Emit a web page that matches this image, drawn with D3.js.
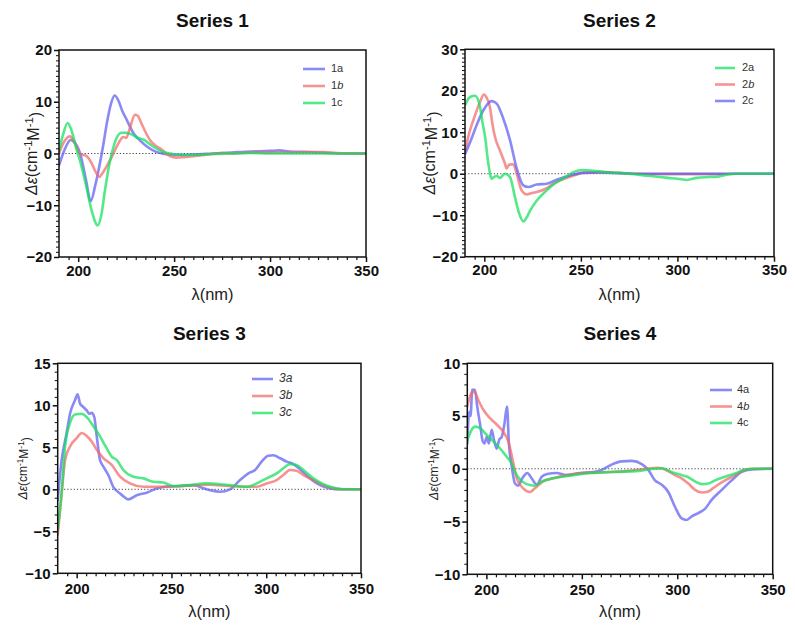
<!DOCTYPE html>
<html><head><meta charset="utf-8">
<script src="https://cdn.jsdelivr.net/npm/d3@7"></script>
<style>
html,body{margin:0;padding:0;background:#fff;}
svg{display:block;font-family:"Liberation Sans",Arial,Helvetica,sans-serif;}
</style></head>
<body>
<svg id="chart" width="795" height="627"></svg>
<script>
// ---------- DATA (wavelength nm, Δε) ----------
const s1a = [[190,-2.3],[193,0.8],[196,2.6],[198,2.2],[201,0],[204,-5],[206.5,-9.2],[209,-6],[211,-2.5],[213,1.5],[215,6],[217,9.5],[219,11.2],[221,10.2],[223,8.2],[225.3,6.5],[229,3.8],[232.3,2.5],[236,1.3],[240,0.4],[245,-0.1],[250,-0.3],[260,-0.2],[270,0],[280,0.2],[290,0.4],[300,0.5],[305,0.6],[310,0.4],[320,0.3],[330,0.1],[340,0],[350,0]];
const s1b = [[190,0],[192,1.8],[195.7,3.3],[198,2.2],[201,-0.1],[204.4,-0.5],[207,-1.9],[209,-3.5],[211,-4.5],[213,-3.6],[216.6,-1.3],[219,0.5],[221,2.0],[223.5,3.2],[225,3.0],[227,5.0],[229.6,7.5],[231,7.3],[233,5.8],[235,4.2],[237.4,2.6],[240,1.6],[242.6,1.0],[245,0.3],[247.8,-0.5],[251.3,-0.8],[255,-0.7],[260,-0.5],[270,-0.1],[275,0.1],[280,0],[290,0.2],[300,0.2],[310,0.2],[320,0.3],[328,0.3],[335,0.1],[350,0]];
const s1c = [[190,0.5],[192,3.5],[194.5,5.9],[196.5,4.5],[199,1],[201,-1.5],[204,-6],[207,-11],[210.2,-13.9],[212,-12],[214,-7],[216,-2.5],[217.5,0],[220,3.0],[222.7,4.0],[225,4.0],[228.8,3.5],[231,3.0],[234,2.7],[237,1.9],[239.2,1.3],[242,0.7],[244.4,0.3],[248,0],[252,-0.2],[260,-0.3],[270,-0.1],[280,0],[290,0.1],[300,0],[320,0],[350,0]];

const s2a = [[190,16.5],[192.6,18.5],[195.2,18.8],[197.8,16.1],[199,12.5],[200.4,8.9],[202.1,2.4],[203.8,-1.2],[205,-0.8],[206.4,-0.5],[208,-1.0],[210.7,0],[213.3,-0.8],[215.9,-5.7],[218,-9.5],[220.2,-11.5],[222,-10.5],[223.7,-8.9],[227.1,-6.5],[232.3,-4.0],[236,-2.5],[239.2,-1.6],[243,-0.5],[246.1,0.4],[251.3,0.9],[255,0.8],[260,0.5],[270,0.2],[275,0],[285,-0.5],[295,-1.0],[300,-1.2],[305,-1.5],[310,-1.0],[316,-0.8],[321,-0.7],[326,-0.2],[330,0],[350,0]];
const s2b = [[190,5.2],[192,9.5],[194.3,12.9],[197.8,17.3],[199.8,19.1],[201,18.5],[202.9,16.1],[204.2,12],[205.5,8.9],[208.1,5.6],[210.7,2.4],[211.5,1.3],[213,2.2],[215,2.3],[216.8,0],[219.3,-4.0],[222,-5.0],[225,-4.6],[227.1,-4.4],[232.3,-3.5],[236,-2.3],[239.2,-1.6],[244,-0.8],[247.9,-0.2],[251.3,0.3],[260,0.4],[270,0.2],[280,0],[290,-0.1],[300,-0.1],[320,-0.1],[330,0],[350,0]];
const s2c = [[190,4.7],[193,8],[196,11.7],[199.5,15.3],[203.8,17.5],[206.4,16.9],[209.8,13.3],[213.3,8.1],[216.6,1.6],[220.2,-2.8],[222.8,-3.2],[227.1,-2.6],[232.3,-2.4],[237.4,-1.45],[244.4,-0.4],[251.3,0.2],[260,0.3],[270,0.1],[280,0],[300,0],[350,0]];

const s3a = [[190,-1.3],[192.1,3.5],[194.7,6.7],[196.5,9.0],[199.1,10.6],[200.5,11.3],[201.8,10.2],[203.5,9.8],[205.3,9.4],[206.7,9.0],[207.9,9.1],[209.3,8.6],[210.6,6.3],[212.3,3.5],[214.1,2.7],[216.7,1.7],[219.3,0.3],[222.9,-0.5],[225,-0.9],[227.2,-1.2],[231.7,-0.7],[237,-0.4],[242.2,0.1],[246.6,0.3],[255,0.4],[262,0.5],[266,0.2],[270.4,-0.1],[275.6,-0.3],[280.9,0],[286.2,1.1],[290.6,1.9],[294.1,2.3],[297.6,3.3],[301.1,4.0],[303.8,4.05],[307.3,3.7],[310.8,3.3],[314.3,3.0],[317.8,2.4],[323.1,1.3],[328.4,0.5],[333.6,0.1],[339,0],[350,0]];
const s3b = [[190,-5.4],[192.1,-0.5],[193.9,3.5],[196.5,5.1],[200,6.1],[202.7,6.7],[205.3,6.35],[207.9,5.7],[210.6,4.7],[214.1,3.7],[218.5,2.9],[222.9,1.5],[228.1,0.7],[235.2,0.3],[245,0.3],[255,0.4],[265,0.5],[270,0.55],[280,0.4],[290,0.3],[295,0.3],[300.2,0.7],[305.5,1.1],[309,1.7],[312.5,2.3],[316,2.2],[319.6,1.7],[324.9,1.1],[330.1,0.5],[335.4,0.1],[340,0],[350,0]];
const s3c = [[190,-4.8],[192.1,-0.3],[193.9,5.1],[196.5,7.9],[199.1,8.9],[202.7,9.0],[205.3,8.6],[208.8,7.5],[212.3,6.3],[215.8,4.9],[218.5,3.9],[221.1,3.5],[224.6,2.3],[229.9,1.5],[235.2,1.3],[240.4,0.9],[245.7,0.8],[251,0.4],[260,0.5],[268,0.7],[280,0.5],[290,0.3],[295,0.7],[300.2,1.3],[305.5,1.9],[309,2.5],[312.5,3.0],[316,2.9],[319.6,2.3],[324.9,1.3],[330.1,0.6],[335.4,0.2],[340.7,0],[350,0]];

const s4a = [[190,2.4],[191,5.4],[191.7,5.0],[192.6,7.5],[194,7.5],[195.2,5.9],[196.7,4.2],[198.1,2.6],[199,2.4],[200.2,3.0],[201.3,2.4],[202.8,3.7],[203.9,2.8],[205.4,1.9],[206.8,2.8],[208,3.0],[209.4,4.2],[210.8,5.9],[211.8,2.4],[213.3,0.2],[215,-1.4],[216.7,-1.6],[218.5,-1.0],[220,-0.6],[221.4,-0.4],[223.7,-0.9],[226.4,-1.5],[229,-0.75],[231.8,-0.5],[236.8,-0.4],[242,-0.6],[249,-0.4],[256,-0.3],[260.4,-0.1],[265.6,0.4],[270.9,0.7],[276.1,0.75],[281.4,0.45],[284.8,-0.1],[288.3,-1.1],[291.8,-1.5],[295.3,-2.2],[298.8,-3.6],[302.3,-4.7],[304.9,-4.85],[307.6,-4.5],[311,-4.2],[314.5,-3.8],[318,-2.95],[323.3,-2.0],[328.5,-1.1],[333.8,-0.3],[339,-0.06],[350,0]];
const s4b = [[190,5.9],[192.3,7.2],[193.7,7.3],[195.8,6.5],[198.4,5.6],[201.9,4.8],[205.4,4.2],[208.9,3.5],[211.5,2.6],[213.8,0.8],[215.9,-0.9],[219.3,-1.85],[222.8,-2.2],[225.4,-1.85],[229.8,-1.2],[235,-0.9],[242,-0.6],[250.7,-0.4],[265.6,-0.3],[274.4,-0.2],[283.1,0],[290.1,0.1],[293.6,-0.06],[298.8,-0.6],[302.3,-0.9],[305.8,-1.4],[309.3,-2.0],[312.8,-2.25],[316.3,-2.15],[319.8,-1.7],[325,-1.1],[330.3,-0.6],[335.5,-0.1],[340,0],[350,0]];
const s4c = [[190,2.7],[192.3,3.7],[194,4.0],[196.7,3.85],[200.2,3.2],[203.7,2.6],[207.1,1.95],[210.6,1.15],[213.3,0.5],[215,-0.3],[217.6,-1.0],[221.1,-1.45],[225.4,-1.6],[229,-1.2],[235,-0.9],[245.6,-0.6],[255,-0.4],[265,-0.3],[280,-0.2],[288,0],[292,0.05],[297,-0.3],[302.3,-0.6],[305.8,-0.8],[309.3,-1.2],[312.8,-1.45],[316.3,-1.4],[319.8,-1.1],[325,-0.75],[330.3,-0.45],[335.5,-0.06],[340,0],[350,0]];

const titles = ["Series 1","Series 2","Series 3","Series 4"];
const xTicks = [200,250,300,350];
const yTicks1 = [-20,-10,0,10,20];
const yTicks2 = [-20,-10,0,10,20,30];
const yTicks3 = [-10,-5,0,5,10,15];
const yTicks4 = [-10,-5,0,5,10];
const legend1 = [["1a",""],["1","b"],["1c",""]];
const legend2 = [["2a",""],["2","b"],["2c",""]];
const legend3 = [["3a",""],["3b",""],["3c",""]];
const legend4 = [["4a",""],["4","b"],["4c",""]];

// ---------- STYLE ----------
const BLUE="#5d5df2", RED="#f46868", GREEN="#12e05a";

const panels = [
  {title:titles[0], box:[59,50,366,257], ydom:[-20,20], yt:yTicks1, series:[[s1a,BLUE],[s1b,RED],[s1c,GREEN]], legend:legend1, legItalicAll:false, leg:[303,325,331,69,17], ylab:33, ylabSize:16, titleY:27, xLabY:300},
  {title:titles[1], box:[465,49.3,774,256.7], ydom:[-20,30], yt:yTicks2, series:[[s2b,RED],[s2c,BLUE],[s2a,GREEN]], legend:legend2, legColors:[GREEN,RED,BLUE], legItalicAll:false, leg:[715,735,742,68,16.5], ylab:431, ylabSize:16, titleY:27, xLabY:300},
  {title:titles[2], box:[57.7,363.3,361,573.3], ydom:[-10,15], yt:yTicks3, series:[[s3a,BLUE],[s3b,RED],[s3c,GREEN]], legend:legend3, legItalicAll:true, leg:[252,273,279,379,17], ylab:24, ylabSize:12, titleY:340, xLabY:617},
  {title:titles[3], box:[467.3,363.3,772.7,574.3], ydom:[-10,10], yt:yTicks4, series:[[s4a,BLUE],[s4b,RED],[s4c,GREEN]], legend:legend4, legItalicAll:false, leg:[710,732,737,390,16.5], ylab:435, ylabSize:12, titleY:340, xLabY:617}
];

const svg = d3.select("#chart");

panels.forEach((p,pi)=>{
  const [L,T,R,B] = p.box;
  const x = d3.scaleLinear().domain([190,350]).range([L,R]);
  const y = d3.scaleLinear().domain(p.ydom).range([B,T]);
  const g = svg.append("g");

  const cid = "clip"+pi;
  svg.append("clipPath").attr("id",cid).append("rect").attr("x",L).attr("y",T).attr("width",R-L).attr("height",B-T);

  g.append("line").attr("x1",L).attr("x2",R).attr("y1",y(0)).attr("y2",y(0))
    .attr("stroke","#444").attr("stroke-width",1).attr("stroke-dasharray","1.2,2");

  const line = d3.line().x(d=>x(d[0])).y(d=>y(d[1])).curve(d3.curveMonotoneX);
  const cg = g.append("g").attr("clip-path","url(#"+cid+")");
  p.series.forEach(([data,col])=>{
    cg.append("path").datum(data).attr("d",line).attr("fill","none")
      .attr("stroke",col).attr("stroke-width",2.6).attr("stroke-opacity",0.72)
      .attr("stroke-linejoin","round").attr("stroke-linecap","round");
  });

  g.append("rect").attr("x",L).attr("y",T).attr("width",R-L).attr("height",B-T)
    .attr("fill","none").attr("stroke","#111").attr("stroke-width",1.5);

  const xMinor = d3.range(195,350,5).filter(v=>v%50!==0);
  g.append("g").attr("transform",`translate(0,${B})`)
    .call(d3.axisBottom(x).tickValues(xMinor).tickSize(3).tickFormat(""))
    .call(a=>{a.select(".domain").remove(); a.selectAll("line").attr("stroke","#111").attr("stroke-width",1.2);});
  g.append("g").attr("transform",`translate(0,${B})`)
    .call(d3.axisBottom(x).tickValues(xTicks).tickSize(5).tickPadding(pi<2?3:5))
    .call(a=>{a.select(".domain").remove();
      a.selectAll("line").attr("stroke","#111").attr("stroke-width",1.5);
      a.selectAll("text").attr("font-size",15).attr("font-weight","bold").attr("fill","#111")
        .attr("font-family",'"Liberation Sans",Arial,sans-serif');});

  const yMinor = d3.range(p.ydom[0],p.ydom[1]+0.001,1).filter(v=>!p.yt.includes(v));
  g.append("g").attr("transform",`translate(${L},0)`)
    .call(d3.axisLeft(y).tickValues(yMinor).tickSize(3).tickFormat(""))
    .call(a=>{a.select(".domain").remove(); a.selectAll("line").attr("stroke","#111").attr("stroke-width",1);});
  g.append("g").attr("transform",`translate(${L},0)`)
    .call(d3.axisLeft(y).tickValues(p.yt).tickSize(5).tickPadding(2))
    .call(a=>{a.select(".domain").remove();
      a.selectAll("line").attr("stroke","#111").attr("stroke-width",1.5);
      a.selectAll("text").attr("font-size",15).attr("font-weight","bold").attr("fill","#111")
        .attr("font-family",'"Liberation Sans",Arial,sans-serif');});

  svg.append("text").attr("x",(L+R)/2).attr("y",p.titleY).attr("text-anchor","middle")
    .attr("font-size",19).attr("font-weight","bold").attr("fill","#111").text(p.title);

  svg.append("text").attr("x",(L+R)/2).attr("y",p.xLabY).attr("text-anchor","middle")
    .attr("font-size",16.5).attr("fill","#222").text("λ(nm)");

  const yl = svg.append("text").attr("transform",`translate(${p.ylab},${(T+B)/2}) rotate(-90)`)
    .attr("text-anchor","middle").attr("dominant-baseline","middle")
    .attr("font-size",p.ylabSize).attr("fill","#222");
  yl.append("tspan").attr("font-style","italic").text("Δε");
  yl.append("tspan").text("(cm");
  yl.append("tspan").attr("dy","-0.4em").attr("font-size","0.7em").text("-1");
  yl.append("tspan").attr("dy","0.4em").text("M");
  yl.append("tspan").attr("dy","-0.4em").attr("font-size","0.7em").text("-1");
  yl.append("tspan").attr("dy","0.4em").text(")");

  const [lx1,lx2,tx,ly0,dy] = p.leg;
  const legColors = p.legColors || p.series.map(s=>s[1]);
  p.legend.forEach((lab,i)=>{
    const yy = ly0 + i*dy;
    svg.append("line").attr("x1",lx1).attr("x2",lx2).attr("y1",yy).attr("y2",yy)
      .attr("stroke",legColors[i]).attr("stroke-width",2.6).attr("stroke-opacity",0.72);
    const t = svg.append("text").attr("x",tx).attr("y",yy).attr("dominant-baseline","middle")
      .attr("font-size",pi===2?12:11).attr("fill","#333");
    if(p.legItalicAll){ t.attr("font-style","italic").text(lab[0]+lab[1]); }
    else { t.append("tspan").text(lab[0]); if(lab[1]) t.append("tspan").attr("font-style","italic").text(lab[1]); }
  });
});
</script>
</body></html>
